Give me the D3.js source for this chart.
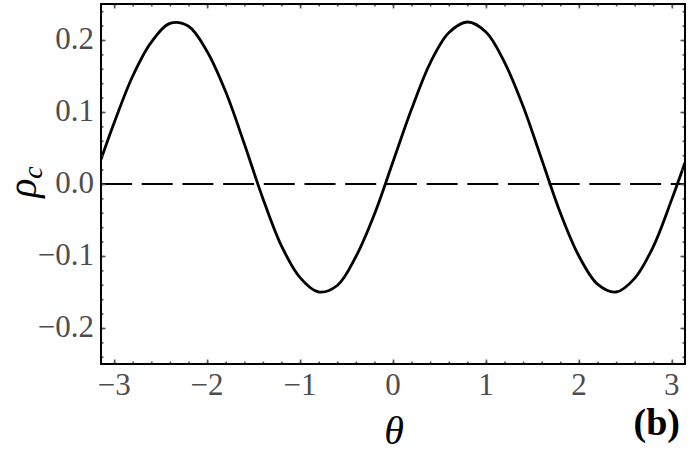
<!DOCTYPE html>
<html>
<head>
<meta charset="utf-8">
<script src="https://cdn.jsdelivr.net/npm/d3@7"></script>
<style>
    body { margin: 0; background: #fff; }
    .tick-label { font-family: "Liberation Serif", "DejaVu Serif", serif; font-size: 31px; fill: #4d4d4d; }
</style>
</head>
<body>
<svg id="plot"></svg>
<script>
// curve values (theta, rho_c)
const thetaVals = [-3.1416, -3.0, -2.8, -2.6, -2.4, -2.2, -2.0, -1.8, -1.6, -1.4, -1.2, -1.0, -0.8, -0.6, -0.4, -0.2,
    0.0, 0.2, 0.4, 0.6, 0.8, 1.0, 1.2, 1.4, 1.6, 1.8, 2.0, 2.2, 2.4, 2.6, 2.8, 3.0, 3.1416];
const rhoVals = [0.034, 0.085, 0.150, 0.197, 0.223, 0.219, 0.184, 0.128, 0.056, -0.020, -0.086, -0.130, -0.150, -0.141, -0.101, -0.042,
    0.031, 0.104, 0.168, 0.210, 0.225, 0.211, 0.169, 0.108, 0.034, -0.040, -0.100, -0.139, -0.150, -0.131, -0.087, -0.021, 0.030];

// ticks
const xTicks = [-3, -2, -1, 0, 1, 2, 3];
const yTicks = [-0.2, -0.1, 0.0, 0.1, 0.2];
const xMinor = d3.range(-3.0, 3.01, 0.2).map(v => +v.toFixed(2));
const yMinor = d3.range(-0.24, 0.241, 0.02).map(v => +v.toFixed(2));
const yLabels = ["\u22120.2", "\u22120.1", "0.0", "0.1", "0.2"];
const xLabels = ["\u22123", "\u22122", "\u22121", "0", "1", "2", "3"];

const svg = d3.select("#plot")
    .attr("width", 693)
    .attr("height", 453);

const margin = { top: 4, right: 8, bottom: 89, left: 101 };
const width = 693 - margin.left - margin.right;
const height = 453 - margin.top - margin.bottom;

const xScale = d3.scaleLinear().domain([-Math.PI, Math.PI]).range([margin.left, margin.left + width]);
const yScale = d3.scaleLinear().domain([-0.25, 0.25]).range([margin.top + height, margin.top]);

const data = thetaVals.map((t, i) => ({ t: t, r: rhoVals[i] }));

// zero line (dashed)
svg.append("line")
    .attr("x1", xScale.range()[0])
    .attr("x2", xScale.range()[1])
    .attr("y1", yScale(0))
    .attr("y2", yScale(0))
    .attr("stroke", "#000")
    .attr("stroke-width", 2.2)
    .attr("stroke-dasharray", "31,9.7");

// clip the curve to the frame
svg.append("clipPath").attr("id", "clip")
    .append("rect")
    .attr("x", margin.left).attr("y", margin.top)
    .attr("width", width).attr("height", height);

const line = d3.line()
    .x(d => xScale(d.t))
    .y(d => yScale(d.r))
    .curve(d3.curveCatmullRom.alpha(0.5));

svg.append("path")
    .datum(data)
    .attr("clip-path", "url(#clip)")
    .attr("fill", "none")
    .attr("stroke", "#000")
    .attr("stroke-width", 2.8)
    .attr("d", line);

// frame ticks on all four sides, pointing inwards
function addTicks(axisFn, scale, vals, size, transform) {
    const g = svg.append("g")
        .attr("transform", transform)
        .call(axisFn(scale).tickValues(vals).tickSize(size).tickFormat(""));
    g.select(".domain").remove();
    g.selectAll(".tick line").attr("stroke", "#555").attr("stroke-width", 1.6);
}
const bottom = margin.top + height, right = margin.left + width;
addTicks(d3.axisBottom, xScale, xMinor, -2.5, `translate(0,${bottom})`);
addTicks(d3.axisBottom, xScale, xTicks, -4.5, `translate(0,${bottom})`);
addTicks(d3.axisTop, xScale, xMinor, -2.5, `translate(0,${margin.top})`);
addTicks(d3.axisTop, xScale, xTicks, -4.5, `translate(0,${margin.top})`);
addTicks(d3.axisLeft, yScale, yMinor, -2.5, `translate(${margin.left},0)`);
addTicks(d3.axisLeft, yScale, yTicks, -4.5, `translate(${margin.left},0)`);
addTicks(d3.axisRight, yScale, yMinor, -2.5, `translate(${right},0)`);
addTicks(d3.axisRight, yScale, yTicks, -4.5, `translate(${right},0)`);

// frame
svg.append("rect")
    .attr("x", margin.left).attr("y", margin.top)
    .attr("width", width).attr("height", height)
    .attr("fill", "none")
    .attr("stroke", "#000")
    .attr("stroke-width", 2);

// tick labels
svg.selectAll(".ylab")
    .data(yTicks)
    .enter().append("text")
    .attr("class", "tick-label")
    .attr("x", 94)
    .attr("y", d => yScale(d) + 8.6)
    .style("text-anchor", "end")
    .text((d, i) => yLabels[i]);

svg.selectAll(".xlab")
    .data(xTicks)
    .enter().append("text")
    .attr("class", "tick-label")
    .attr("x", d => xScale(d))
    .attr("y", 395)
    .style("text-anchor", "middle")
    .text((d, i) => xLabels[i]);

// axis titles
svg.append("text")
    .attr("x", 394)
    .attr("y", 444)
    .style("text-anchor", "middle")
    .style("font-family", "Liberation Serif, serif")
    .style("font-style", "italic")
    .style("font-size", "40px")
    .text("\u03b8");

const ylab = svg.append("text")
    .attr("transform", "translate(36,182) rotate(-90)")
    .style("text-anchor", "middle")
    .style("font-family", "Liberation Serif, serif")
    .style("font-style", "italic")
    .style("font-size", "40px");
ylab.append("tspan").text("\u03c1");
ylab.append("tspan").attr("dy", "0.22em").style("font-size", "28px").text("c");

svg.append("text")
    .attr("x", 680)
    .attr("y", 435)
    .style("text-anchor", "end")
    .style("font-family", "Liberation Serif, serif")
    .style("font-weight", "bold")
    .style("font-size", "38px")
    .text("(b)");
</script>
</body>
</html>
